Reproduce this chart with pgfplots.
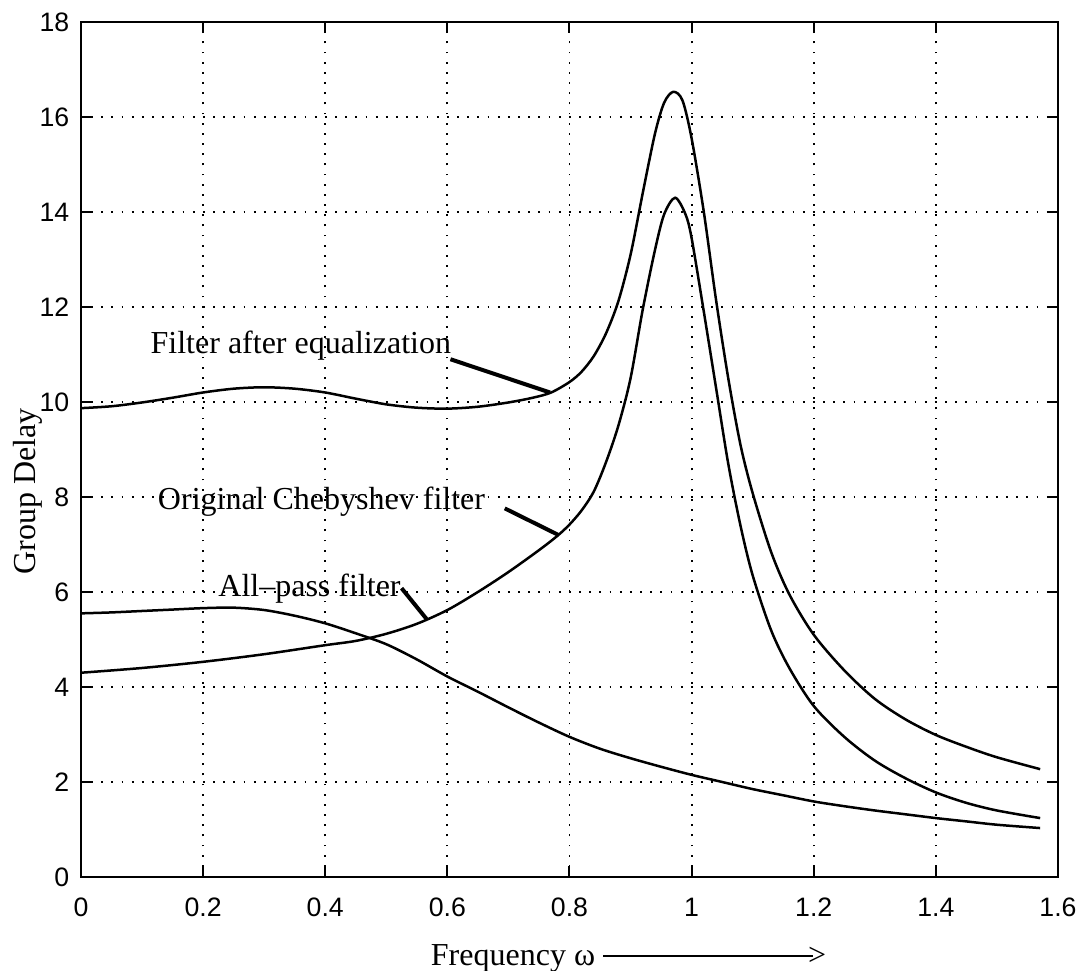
\documentclass[border=0pt]{standalone}
\usepackage{pgfplots}
\pgfplotsset{compat=1.18}
\usepackage{fontspec}
\setmainfont{Liberation Serif}
\setsansfont{Liberation Sans}
\begin{document}
\begin{tikzpicture}
\useasboundingbox (-24.3pt,-28.2pt) rectangle (300.9pt,263.1pt);
\begin{axis}[
  at={(0,0)}, anchor=south west,
  scale only axis, width=293.1pt, height=256.5pt,
  xmin=0, xmax=1.6, ymin=0, ymax=18,
  xtick={0,0.2,...,1.6}, ytick={0,2,...,18},
  xticklabels={0,0.2,0.4,0.6,0.8,1,1.2,1.4,1.6},
  tick pos=both, tick align=inside, major tick length=3.3pt,
  /pgf/number format/assume math mode=true,
  ticklabel style={font=\fontsize{8}{9.6}\selectfont\sffamily},
  xticklabel style={yshift=-2.7pt},
  grid=major,
  major grid style={black, line width=0.55pt, dash pattern=on 0.55pt off 2.5pt},
  axis line style={line width=0.6pt},
  every tick/.style={black, line width=0.6pt},
  clip=false,
  curve/.style={black, no markers, line width=0.75pt, smooth, tension=0.5},
]
% Filter after equalization
\addplot[curve] coordinates {
(0,9.87) (0.05,9.91) (0.1,9.99) (0.15,10.09) (0.2,10.2) (0.25,10.28) (0.3,10.31)
(0.35,10.28) (0.4,10.2) (0.45,10.07) (0.5,9.95) (0.55,9.88) (0.6,9.86) (0.65,9.9)
(0.7,9.99) (0.74,10.09) (0.77,10.2) (0.8,10.42) (0.82,10.64) (0.84,10.97) (0.86,11.45)
(0.88,12.12) (0.9,13.1) (0.92,14.4) (0.94,15.65) (0.955,16.3) (0.97,16.53) (0.985,16.35)
(1.0,15.55) (1.02,14.0) (1.04,12.15) (1.06,10.5) (1.08,9.1) (1.1,8.08) (1.13,6.85)
(1.16,5.95) (1.2,5.1) (1.25,4.35) (1.3,3.75) (1.35,3.32) (1.4,2.99) (1.45,2.74)
(1.5,2.52) (1.5708,2.27)};
% Original Chebyshev filter
\addplot[curve] coordinates {
(0,4.30) (0.1,4.40) (0.2,4.53) (0.3,4.69) (0.4,4.88) (0.45,4.97) (0.5,5.12) (0.55,5.33)
(0.6,5.62) (0.65,6.0) (0.7,6.42) (0.75,6.88) (0.78,7.18) (0.8,7.42) (0.82,7.72)
(0.84,8.12) (0.86,8.74) (0.88,9.5) (0.9,10.5) (0.92,11.95) (0.94,13.2) (0.955,13.95)
(0.973,14.3) (0.99,13.95) (1.0,13.45) (1.02,11.9) (1.04,10.3) (1.06,8.7) (1.08,7.4)
(1.1,6.35) (1.13,5.2) (1.16,4.4) (1.2,3.6) (1.25,2.95) (1.3,2.45) (1.35,2.08)
(1.4,1.78) (1.45,1.56) (1.5,1.40) (1.5708,1.24)};
% All-pass filter
\addplot[curve] coordinates {
(0,5.55) (0.05,5.57) (0.1,5.60) (0.15,5.63) (0.2,5.66) (0.25,5.67) (0.3,5.62) (0.35,5.50) (0.4,5.34)
(0.45,5.13) (0.5,4.90) (0.55,4.58) (0.6,4.22) (0.65,3.90) (0.7,3.57) (0.75,3.25)
(0.8,2.95) (0.85,2.70) (0.9,2.50) (0.95,2.32) (1.0,2.15) (1.05,2.0) (1.1,1.85)
(1.15,1.72) (1.2,1.59) (1.25,1.49) (1.3,1.40) (1.35,1.32) (1.4,1.24) (1.45,1.17)
(1.5,1.10) (1.5708,1.03)};
% annotations
\node[anchor=base west, inner sep=0, font=\fontsize{9.6}{11}\selectfont] at (axis cs:0.113,11.03) {Filter after equalization};
\draw[line width=1.2pt] (axis cs:0.605,10.9) -- (axis cs:0.768,10.2);
\node[anchor=base west, inner sep=0, font=\fontsize{9.6}{11}\selectfont] at (axis cs:0.125,7.74) {Original Chebyshev filter};
\draw[line width=1.2pt] (axis cs:0.694,7.76) -- (axis cs:0.782,7.2);
\node[anchor=base west, inner sep=0, font=\fontsize{9.6}{11}\selectfont] at (axis cs:0.224,5.90) {All--pass filter};
\draw[line width=1.2pt] (axis cs:0.525,6.08) -- (axis cs:0.566,5.43);
% axis labels
\node[anchor=base west, inner sep=0, font=\fontsize{9.6}{11}\selectfont] at (axis cs:0.572,-1.853) {Frequency ω \rule[0.25em]{63pt}{0.5pt}\kern-1.5pt>};
\node[rotate=90, inner sep=0, font=\fontsize{9.6}{11}\selectfont] at (axis cs:-0.0876,8.12) {Group Delay};
\end{axis}
\end{tikzpicture}
\end{document}
